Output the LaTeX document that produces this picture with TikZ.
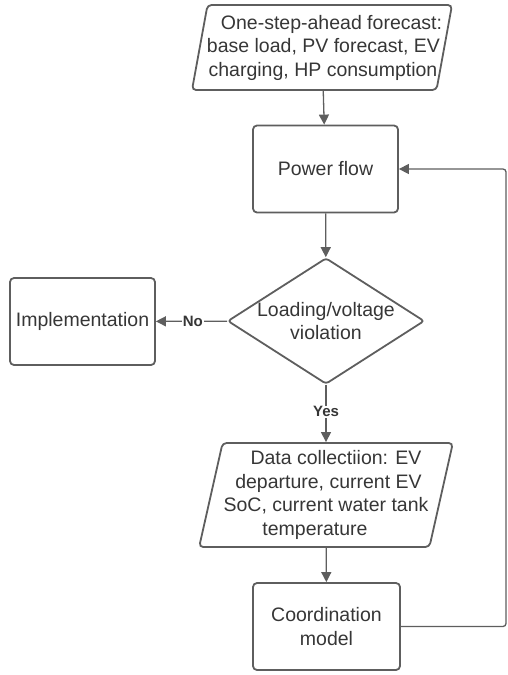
\documentclass[tikz,border=0pt]{standalone}
\usepackage{fontspec}
\setmainfont{Liberation Sans}
\usetikzlibrary{shapes.geometric,arrows.meta}
\definecolor{linegray}{HTML}{5E5E5E}
\definecolor{textgray}{HTML}{363636}
\tikzset{
    procbox/.style={rectangle, draw=linegray, line width=1.8pt, rounded corners=4pt,
        minimum width=145pt, minimum height=87pt, align=center, text=textgray,
        font=\fontsize{19.5}{23.5}\selectfont},
    iobox/.style={trapezium, trapezium left angle=#1, trapezium right angle=180-#1,
        trapezium stretches body, draw=linegray, line width=1.8pt, rounded corners=4pt,
        inner sep=1pt, align=center, text=textgray,
        font=\fontsize{19.5}{23.5}\selectfont},
    decision/.style={diamond, aspect=1.56, draw=linegray, line width=1.8pt,
        rounded corners=3pt, minimum width=194pt, minimum height=124pt,
        inner sep=0pt, align=center, text=textgray,
        font=\fontsize{19.5}{23.5}\selectfont},
    flow/.style={draw=linegray, line width=1.3pt, -{Triangle[length=10pt,width=10pt]}},
    answer/.style={fill=white, text=textgray, inner sep=1pt,
        font=\fontsize{15}{18}\selectfont\bfseries}
}
\begin{document}
\begin{tikzpicture}[x=1pt,y=-1pt]
    \useasboundingbox (0,0) rectangle (507,675);

    % Nodes
    \node[iobox=77, inner xsep=-12pt, minimum width=260pt, minimum height=85pt] (forecast) at (322,47.5)
        {\hspace*{19pt}One-step-ahead forecast:\\\hspace*{3pt}base load, PV forecast, EV\\\hspace*{2pt}charging, HP consumption};
    \node[procbox] (powerflow) at (325.5,169) {Power flow};
    \node[decision] (violation) at (326,321) {Loading/voltage\\violation};
    \node[procbox] (implement) at (82.5,321.5) {Implementation};
    \node[iobox=75.5, minimum width=252pt, minimum height=104pt] (datacoll) at (326,495)
        {\hspace*{20pt}Data collectiion: EV\\\hspace*{5pt}departure, current EV\\SoC, current water tank\hspace*{6pt}\\temperature\hspace*{22pt}};
    \node[procbox, minimum width=147pt] (coordmodel) at (326.5,626.5) {Coordination\\model};
    \coordinate (loopback) at (506,169);

    % Edges
    \draw[flow] (forecast) -- (powerflow);
    \draw[flow] (powerflow) -- (violation);
    \draw[flow] (violation) -- node[answer, pos=0.48] {No} (implement);
    \draw[flow] (violation) -- node[answer, pos=0.47] {Yes} (datacoll);
    \draw[flow] (datacoll) -- (coordmodel);
    \draw[flow, rounded corners=3pt] (coordmodel.east) -| (loopback) -- (powerflow.east);
\end{tikzpicture}
\end{document}
